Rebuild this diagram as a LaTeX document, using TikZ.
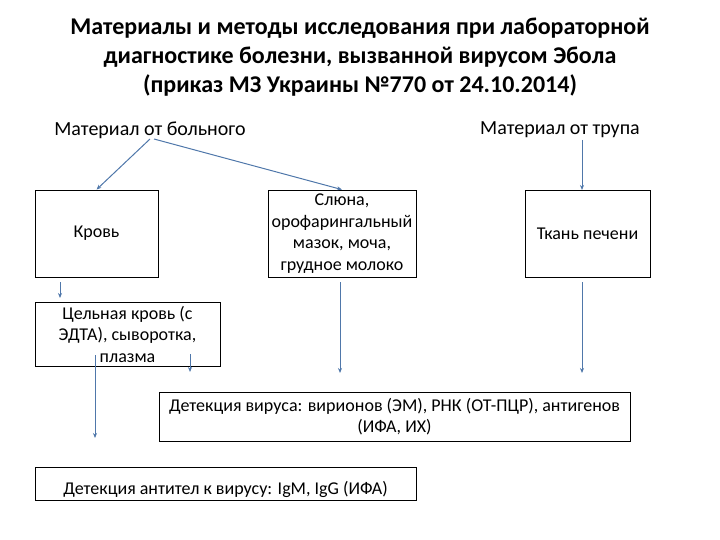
\documentclass[tikz,border=0pt]{standalone}
\usepackage{fontspec}
\setmainfont{Carlito}
\usetikzlibrary{arrows.meta}
\begin{document}
\begin{tikzpicture}[x=1pt,y=-1pt,
  box/.style={draw=black,line width=0.8pt,align=center,inner sep=0pt,font=\fontsize{18}{21.5}\selectfont},
  arr/.style={color={rgb,255:red,79;green,119;blue,170},line width=1pt,-{Stealth[length=5pt,width=4pt]}}]
\useasboundingbox (0,0) rectangle (720,540);
\node[font=\bfseries\fontsize{24}{29}\selectfont,align=center] (title) at (360,57)
 {Материалы и методы исследования при лабораторной\\диагностике болезни, вызванной  вирусом Эбола\\(приказ МЗ Украины №770 от 24.10.2014)};
\node[font=\fontsize{20}{24}\selectfont] (pat) at (150,130) {Материал от больного};
\node[font=\fontsize{20}{24}\selectfont] (cad) at (560,130) {Материал от трупа};
\node[box,minimum width=123,minimum height=87] (blood) at (96.5,233.5) {Кровь};
\node[box,minimum width=148,minimum height=87] (sal) at (342,233.5) {Слюна,\\орофарингальный\\мазок, моча,\\грудное молоко};
\node[box,minimum width=125,minimum height=87] (liv) at (587.5,233.5) {Ткань печени};
\node[box,minimum width=185,minimum height=64] (whole) at (127.5,334) {Цельная кровь (с\\ЭДТА),  сыворотка,\\плазма};
\node[box,minimum width=471,minimum height=49] (vir) at (394.5,416.5) {Детекция вируса: вирионов (ЭМ), РНК (ОТ-ПЦР), антигенов\\(ИФА, ИХ)};
\node[box,minimum width=381,minimum height=33] (ab) at (225.5,483.5) {};
\node[font=\fontsize{18}{21.5}\selectfont] (abt) at (225.5,489) {Детекция антител к вирусу: IgM, IgG (ИФА)};
\coordinate (p1) at (150,139); \coordinate (p2) at (154,139);
\draw[arr] (p1) -- (blood.north);
\draw[arr] (p2) -- (sal.north);
\draw[arr] (582,140) -- (582,190);
\draw[arr] (60,282) -- (60,298);
\draw[arr] (95,355) -- (95,438);
\draw[arr] (190,354) -- (190,372);
\draw[arr] (340,282) -- (340,373);
\draw[arr] (582,282) -- (582,373);
\end{tikzpicture}
\end{document}
